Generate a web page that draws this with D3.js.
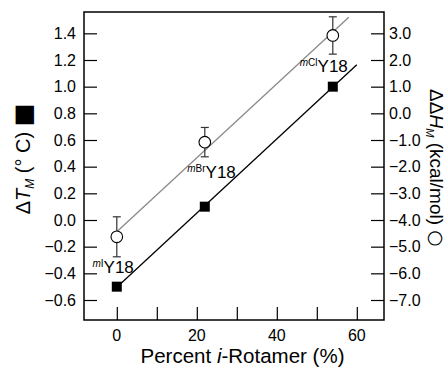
<!DOCTYPE html>
<html><head><meta charset="utf-8">
<script src="https://cdn.jsdelivr.net/npm/d3@7"></script>
<style>
body{margin:0;background:#fff;}
svg text{font-family:"Liberation Sans",Arial,Helvetica,sans-serif;fill:#000;}
</style></head>
<body><svg id="c" width="448" height="368"></svg>
<script>
// ---- data ----
const rotamerPct = [0, 22, 54];
const dTm = [-0.5, 0.1, 1.0];               // °C, filled squares (left axis)
const ddHm = [-4.63, -1.08, 2.92];          // kcal/mol, open circles (right axis)
const ddHmErr = [0.75, 0.55, 0.7];
const labelSup = ["mI", "mBr", "mCl"];
const labelMain = "Y18";
const fitTmX = [0, 60], fitTmY = [-0.504, 1.164];
const fitHmX = [0, 58], fitHmY = [-4.44, 3.6];
const xTicks = [0, 10, 20, 30, 40, 50, 60];
const xTickLabels = [0, 20, 40, 60];
const yLeftTicks = [-0.6, -0.4, -0.2, 0.0, 0.2, 0.4, 0.6, 0.8, 1.0, 1.2, 1.4];
const yRightTicks = [-7, -6, -5, -4, -3, -2, -1, 0, 1, 2, 3];

// ---- layout ----
const L = 84, R = 384, T = 12, B = 320;
const svg = d3.select("#c");
const x = d3.scaleLinear().domain([-8.2, 66.8]).range([L, R]);
const yL = d3.scaleLinear().domain([-0.75, 1.56]).range([B, T]);
const yR = d3.scaleLinear().domain([-7.75, 3.8]).range([B, T]);
const tickLen = 13;
const fs = 16;

// axes (ticks inward)
const axB = svg.append("g").attr("transform", `translate(0,${B})`)
  .call(d3.axisTop(x).tickValues(xTicks).tickSize(tickLen).tickFormat(""));
const axL = svg.append("g").attr("transform", `translate(${L},0)`)
  .call(d3.axisRight(yL).tickValues(yLeftTicks).tickSize(tickLen).tickFormat(""));
const axR = svg.append("g").attr("transform", `translate(${R},0)`)
  .call(d3.axisLeft(yR).tickValues(yRightTicks).tickSize(tickLen).tickFormat(""));
[axB, axL, axR].forEach(g => {
  g.select(".domain").remove();
  g.selectAll("line").attr("stroke", "#000").attr("stroke-width", 1.2);
});
// frame
svg.append("rect").attr("x", L).attr("y", T).attr("width", R - L).attr("height", B - T)
  .attr("fill", "none").attr("stroke", "#000").attr("stroke-width", 1.5);

// tick labels
svg.append("g").selectAll("text").data(xTickLabels).join("text")
  .attr("x", d => x(d)).attr("y", B + 21).attr("text-anchor", "middle")
  .attr("font-size", fs).text(d => d);
svg.append("g").selectAll("text").data(yLeftTicks).join("text")
  .attr("x", L - 8).attr("y", d => yL(d) + 5.5).attr("text-anchor", "end")
  .attr("font-size", fs).text(d => d3.format(".1f")(d));
svg.append("g").selectAll("text").data(yRightTicks).join("text")
  .attr("x", R + 5).attr("y", d => yR(d) + 5.5).attr("text-anchor", "start")
  .attr("font-size", fs).text(d => d3.format(".1f")(d));

// fit lines
const lineTm = d3.line().x(d => x(d[0])).y(d => yL(d[1]));
const lineHm = d3.line().x(d => x(d[0])).y(d => yR(d[1]));
svg.append("path").attr("d", lineHm(d3.zip(fitHmX, fitHmY)))
  .attr("stroke", "#8a8a8a").attr("stroke-width", 1.3).attr("fill", "none");
svg.append("path").attr("d", lineTm(d3.zip(fitTmX, fitTmY)))
  .attr("stroke", "#000").attr("stroke-width", 1.3).attr("fill", "none");

// error bars
const eb = svg.append("g").attr("stroke", "#333").attr("stroke-width", 1.2);
rotamerPct.forEach((p, i) => {
  const cx = x(p), y1 = yR(ddHm[i] + ddHmErr[i]), y2 = yR(ddHm[i] - ddHmErr[i]);
  eb.append("line").attr("x1", cx).attr("x2", cx).attr("y1", y1).attr("y2", y2);
  eb.append("line").attr("x1", cx - 4).attr("x2", cx + 4).attr("y1", y1).attr("y2", y1);
  eb.append("line").attr("x1", cx - 4).attr("x2", cx + 4).attr("y1", y2).attr("y2", y2);
});
// circles
svg.append("g").selectAll("circle").data(rotamerPct).join("circle")
  .attr("cx", d => x(d)).attr("cy", (d, i) => yR(ddHm[i])).attr("r", 5.8)
  .attr("fill", "#fff").attr("stroke", "#000").attr("stroke-width", 1.1);
// squares
const sq = 10;
svg.append("g").selectAll("rect").data(rotamerPct).join("rect")
  .attr("x", d => x(d) - sq / 2).attr("y", (d, i) => yL(dTm[i]) - sq / 2)
  .attr("width", sq).attr("height", sq).attr("fill", "#000");

// point labels
const lblDx = [17, 31, 15], lblDy = [36, 36, 37];
rotamerPct.forEach((p, i) => {
  const t = svg.append("text").attr("x", x(p) + lblDx[i]).attr("y", yR(ddHm[i]) + lblDy[i])
    .attr("text-anchor", "end").attr("font-size", 17);
  const m = labelSup[i];
  t.append("tspan").attr("font-size", 10).attr("font-style", "italic").attr("dy", -6).text("m");
  t.append("tspan").attr("font-size", 10).text(m.slice(1));
  t.append("tspan").attr("dy", 6).text(labelMain);
});

// x title
const xt = svg.append("text").attr("x", 242.5).attr("y", 363).attr("text-anchor", "middle").attr("font-size", 20.5);
xt.append("tspan").text("Percent ");
xt.append("tspan").attr("font-style", "italic").text("i");
xt.append("tspan").text("-Rotamer (%)");

// left title
const lt = svg.append("text").attr("transform", "translate(30,159) rotate(-90)")
  .attr("text-anchor", "middle").attr("font-size", 20);
lt.append("tspan").text("Δ");
lt.append("tspan").attr("font-style", "italic").text("T");
lt.append("tspan").attr("font-style", "italic").attr("font-size", 12).attr("dy", 4).text("M");
lt.append("tspan").attr("dy", -4).text(" (° C) ");
lt.append("tspan").attr("font-family", "DejaVu Sans").attr("font-size", 24).attr("dy", 1).text("■");

// right title
const rt = svg.append("text").attr("transform", "translate(430,168) rotate(90)")
  .attr("text-anchor", "middle").attr("font-size", 19);
rt.append("tspan").text("ΔΔ");
rt.append("tspan").attr("font-style", "italic").text("H");
rt.append("tspan").attr("font-style", "italic").attr("font-size", 11).attr("dy", 4).text("M");
rt.append("tspan").attr("dy", -4).text(" (kcal/mol) ");
rt.append("tspan").attr("font-family", "DejaVu Sans").attr("font-size", 19).text("○");
</script></body></html>
